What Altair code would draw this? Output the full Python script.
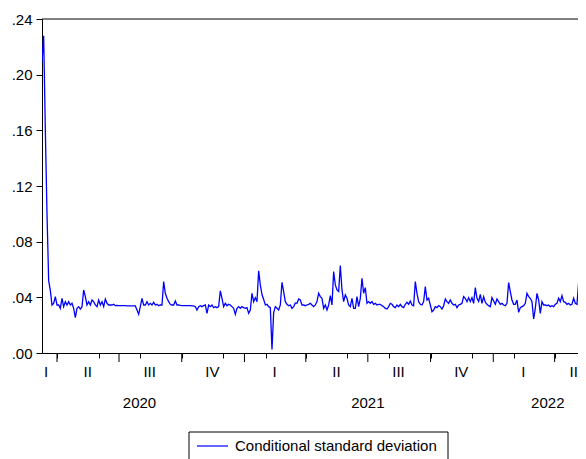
import altair as alt
import pandas as pd

series_name = "Conditional standard deviation"
start_date = "2020-03-10"
end_date = "2022-05-16"

# Conditional standard deviation (about every 2.4 days)
sd_part1 = [
    0.209, 0.228, 0.160, 0.100, 0.052, 0.045, 0.0345, 0.0357, 0.0405, 0.0345,
    0.0345, 0.0321, 0.0393, 0.0333, 0.0369, 0.0345, 0.0369, 0.0345, 0.0357, 0.0321,
    0.0254, 0.0321, 0.0333, 0.0316, 0.0333, 0.0453, 0.0405, 0.0345, 0.0369, 0.0345,
    0.0381, 0.0369, 0.0345, 0.0333, 0.0381, 0.0345, 0.0369, 0.0333, 0.0388, 0.0357,
    0.0345, 0.0345, 0.0345, 0.0350, 0.0340,
    0.0342, 0.0341, 0.0341, 0.0340, 0.0340, 0.0340, 0.0339, 0.0339, 0.0339, 0.0338,
    0.0338, 0.0338,
    0.0309, 0.0278, 0.0333, 0.0393, 0.0345, 0.0345, 0.0369, 0.0345, 0.0357, 0.0345,
    0.0364, 0.0345, 0.0350, 0.0340, 0.0345, 0.0345, 0.0513, 0.0429, 0.0393, 0.0369,
    0.0350, 0.0345, 0.0345, 0.0374, 0.0345, 0.0345,
    0.0342, 0.0341, 0.0341, 0.0340, 0.0340, 0.0340, 0.0340, 0.0339, 0.0339,
    0.0333, 0.0309, 0.0333, 0.0340, 0.0333, 0.0340, 0.0345, 0.0285, 0.0345, 0.0333,
    0.0345, 0.0326, 0.0333, 0.0326, 0.0333, 0.0446, 0.0393, 0.0333,
]
sd_part2 = [
    0.0357, 0.0340, 0.0350, 0.0345, 0.0333, 0.0321, 0.0278, 0.0321, 0.0333, 0.0321,
    0.0333, 0.0326, 0.0321, 0.0326, 0.0285, 0.0309, 0.0429, 0.0369, 0.0398, 0.0369,
    0.0590, 0.0489, 0.0420, 0.0385, 0.0345, 0.0350, 0.0333, 0.0326, 0.0026, 0.0290,
    0.0333, 0.0321, 0.0309, 0.0345, 0.0508, 0.0441, 0.0369, 0.0350, 0.0340, 0.0345,
    0.0321, 0.0333, 0.0360, 0.0357, 0.0388, 0.0381, 0.0345, 0.0345, 0.0340, 0.0345,
    0.0350, 0.0357, 0.0345, 0.0333, 0.0345, 0.0369, 0.0429, 0.0405, 0.0393, 0.0321,
    0.0345, 0.0309, 0.0345, 0.0412, 0.0345, 0.0585, 0.0489, 0.0453, 0.0441, 0.0628,
    0.0453, 0.0369, 0.0417, 0.0393, 0.0345, 0.0333, 0.0393, 0.0321, 0.0321, 0.0405,
    0.0333, 0.0393, 0.0537, 0.0429, 0.0470, 0.0357, 0.0369, 0.0357, 0.0369, 0.0350,
    0.0357, 0.0345, 0.0350, 0.0350, 0.0340, 0.0333, 0.0321, 0.0316, 0.0333, 0.0357,
    0.0350, 0.0333, 0.0326, 0.0345, 0.0333, 0.0350, 0.0333, 0.0326,
]
sd_part3 = [
    0.0350, 0.0364, 0.0350, 0.0374, 0.0345, 0.0340, 0.0513, 0.0429, 0.0369, 0.0350,
    0.0345, 0.0369, 0.0477, 0.0381, 0.0393, 0.0345, 0.0297, 0.0309, 0.0333, 0.0326,
    0.0340, 0.0333, 0.0316, 0.0340, 0.0388, 0.0369, 0.0357, 0.0381, 0.0357, 0.0345,
    0.0350, 0.0326, 0.0345, 0.0350, 0.0357, 0.0405, 0.0393, 0.0369, 0.0398, 0.0369,
    0.0398, 0.0357, 0.0470, 0.0393, 0.0370, 0.0422, 0.0357, 0.0405, 0.0365, 0.0350,
    0.0340, 0.0333, 0.0398, 0.0374, 0.0350, 0.0388, 0.0369, 0.0350, 0.0357, 0.0345,
    0.0340, 0.0357, 0.0506, 0.0441, 0.0381, 0.0350, 0.0350, 0.0381, 0.0292, 0.0326,
    0.0333, 0.0340, 0.0357, 0.0429, 0.0405, 0.0393, 0.0369, 0.0244, 0.0321, 0.0429,
    0.0381, 0.0285, 0.0369, 0.0345, 0.0345, 0.0340, 0.0345, 0.0333, 0.0340, 0.0333,
    0.0350, 0.0357, 0.0393, 0.0369, 0.0412, 0.0369, 0.0364, 0.0350, 0.0357, 0.0345,
    0.0350, 0.0393, 0.0357, 0.0350, 0.0508, 0.0393, 0.0453, 0.0489, 0.0405,
]

quarter_labels = ["I", "II", "III", "IV", "I", "II", "III", "IV", "I", "II"]
quarter_label_dates = ["2020-03-16", "2020-05-16", "2020-08-15", "2020-11-15",
                       "2021-02-14", "2021-05-16", "2021-08-15", "2021-11-15",
                       "2022-02-14", "2022-04-29"]
year_labels = ["2020", "2021", "2022"]
year_label_dates = ["2020-07-31", "2021-07-01", "2022-03-22"]
quarter_starts = ["2020-04-01", "2020-07-01", "2020-10-01", "2021-01-01",
                  "2021-04-01", "2021-07-01", "2021-10-01", "2022-01-01",
                  "2022-04-01"]
y_ticks = [0.0, 0.04, 0.08, 0.12, 0.16, 0.20, 0.24]

values = sd_part1 + sd_part2 + sd_part3
dates = pd.date_range(start_date, end_date, periods=len(values))
df = pd.DataFrame({"date": dates, "value": values})

month_starts = pd.date_range("2020-04-01", "2022-05-01", freq="MS")
month_ticks = [alt.DateTime(year=int(d.year), month=int(d.month), date=1) for d in month_starts]

qlab_df = pd.DataFrame({"date": pd.to_datetime(quarter_label_dates), "label": quarter_labels})
ylab_df = pd.DataFrame({"date": pd.to_datetime(year_label_dates), "label": year_labels})
qtick_df = pd.DataFrame({"date": pd.to_datetime(quarter_starts)})
top_df = pd.DataFrame({"value": [y_ticks[-1]]})
legend_df = pd.DataFrame({"label": [series_name]})

FONT = "Liberation Sans"
x_scale = alt.Scale(domain=[alt.DateTime(year=2020, month=3, date=10),
                            alt.DateTime(year=2022, month=5, date=5, hours=7)])
y_scale = alt.Scale(domain=[0, 0.24], nice=False)

line = alt.Chart(df).mark_line(color="#0000ff", strokeWidth=1.3, clip=True).encode(
    x=alt.X("date:T", scale=x_scale,
            axis=alt.Axis(values=month_ticks, labels=False, tickSize=5, tickColor="black",
                          domainColor="black", grid=False, title=None)),
    y=alt.Y("value:Q", scale=y_scale,
            axis=alt.Axis(values=y_ticks,
                          labelExpr="replace(format(datum.value, '.2f'), '0.', '.')",
                          tickSize=6, labelPadding=4, tickColor="black", domainColor="black",
                          grid=False, title=None, labelFont=FONT, labelFontSize=15,
                          labelColor="black")),
)

top = alt.Chart(top_df).mark_rule(color="black", strokeWidth=1).encode(
    y=alt.Y("value:Q")
)

qticks = alt.Chart(qtick_df).mark_rule(color="black", strokeWidth=1).encode(
    x=alt.X("date:T"),
    y=alt.value(334), y2=alt.value(343),
)

qlabels = alt.Chart(qlab_df).mark_text(font=FONT, fontSize=15, color="black",
                                       baseline="middle").encode(
    x=alt.X("date:T"),
    y=alt.value(353),
    text="label:N",
)

ylabels = alt.Chart(ylab_df).mark_text(font=FONT, fontSize=15, color="black",
                                       baseline="middle").encode(
    x=alt.X("date:T"),
    y=alt.value(384),
    text="label:N",
)

leg_box = alt.Chart(legend_df).mark_rect(fill="white", stroke="black", strokeWidth=1).encode(
    x=alt.value(147), x2=alt.value(406), y=alt.value(413), y2=alt.value(450),
)
leg_line = alt.Chart(legend_df).mark_rule(color="#0000ff", strokeWidth=1.2).encode(
    x=alt.value(155), x2=alt.value(186), y=alt.value(427),
)
leg_text = alt.Chart(legend_df).mark_text(font=FONT, fontSize=15, color="black",
                                          align="left", baseline="middle").encode(
    x=alt.value(193), y=alt.value(427), text="label:N",
)

chart = alt.layer(line, top, qticks, qlabels, ylabels, leg_box, leg_line, leg_text).properties(
    width=536, height=334,
    padding={"left": 34, "top": 11, "right": 0, "bottom": 106},
    autosize=alt.AutoSizeParams(type="none"),
    background="white",
).configure_view(strokeWidth=0)

chart.save("out.html", embed_options={"renderer": "svg", "actions": False})
